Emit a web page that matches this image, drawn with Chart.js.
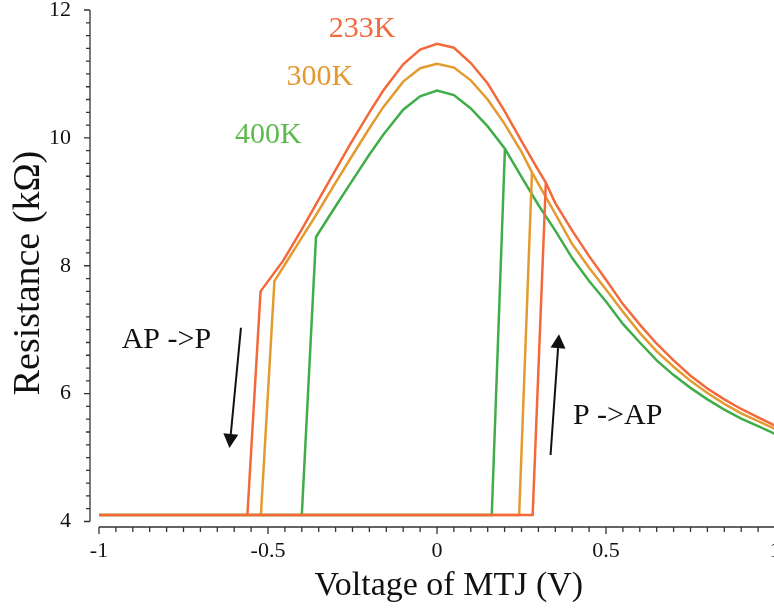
<!DOCTYPE html>
<html>
<head>
<meta charset="utf-8">
<script src="https://cdn.jsdelivr.net/npm/chart.js@4.4.1/dist/chart.umd.min.js"></script>
<style>
  html, body { margin: 0; padding: 0; background: #fff; overflow: hidden; }
  #wrap { width: 784px; height: 608px; }
</style>
</head>
<body>
<div id="wrap"><canvas id="mtj" width="784" height="608"></canvas></div>
<script>
// Data
const lowR = 4.1;

// 233K
const apV233 = [-0.561, -0.522, -0.455, -0.40, -0.356, -0.30, -0.257, -0.20, -0.159, -0.10, -0.05, 0, 0.05, 0.10, 0.15, 0.20, 0.25, 0.30, 0.322, 0.35, 0.40, 0.45, 0.50, 0.55, 0.60, 0.65, 0.70, 0.75, 0.80, 0.85, 0.90, 0.95, 1.0];
const apR233 = [lowR, 7.60, 8.08, 8.57, 8.98, 9.50, 9.90, 10.40, 10.74, 11.15, 11.38, 11.47, 11.41, 11.17, 10.85, 10.42, 9.95, 9.49, 9.30, 8.98, 8.55, 8.15, 7.78, 7.40, 7.08, 6.78, 6.52, 6.28, 6.08, 5.91, 5.76, 5.63, 5.50];
const pV233 = [-1, 0.283, 0.322];
const pR233 = [lowR, lowR, 9.30];

// 300K
const apV300 = [-0.521, -0.481, -0.45, -0.40, -0.356, -0.30, -0.257, -0.20, -0.159, -0.10, -0.05, 0, 0.05, 0.10, 0.15, 0.20, 0.25, 0.281, 0.30, 0.35, 0.40, 0.45, 0.50, 0.55, 0.60, 0.65, 0.70, 0.75, 0.80, 0.85, 0.90, 0.95, 1.0];
const apR300 = [lowR, 7.76, 8.02, 8.44, 8.81, 9.30, 9.67, 10.15, 10.48, 10.88, 11.09, 11.16, 11.10, 10.90, 10.60, 10.22, 9.78, 9.46, 9.28, 8.81, 8.34, 7.97, 7.63, 7.28, 6.95, 6.66, 6.42, 6.20, 6.01, 5.84, 5.69, 5.57, 5.45];
const pV300 = [-1, 0.243, 0.281];
const pR300 = [lowR, lowR, 9.46];

// 400K
const apV400 = [-0.400, -0.358, -0.30, -0.257, -0.20, -0.159, -0.10, -0.05, 0, 0.05, 0.10, 0.15, 0.201, 0.25, 0.30, 0.35, 0.40, 0.45, 0.50, 0.55, 0.60, 0.65, 0.70, 0.75, 0.80, 0.85, 0.90, 0.95, 1.0];
const apR400 = [lowR, 8.45, 8.93, 9.28, 9.74, 10.05, 10.44, 10.65, 10.74, 10.67, 10.46, 10.18, 9.83, 9.39, 8.95, 8.55, 8.12, 7.76, 7.44, 7.09, 6.80, 6.52, 6.29, 6.09, 5.91, 5.75, 5.61, 5.49, 5.37];
const pV400 = [-1, 0.162, 0.201];
const pR400 = [lowR, lowR, 9.83];

const xTicks = [-1, -0.5, 0, 0.5, 1];
const yTicks = [4, 6, 8, 10, 12];

const C233 = "#F4693B";
const C300 = "#E39B2F";
const C400 = "#3FAE49";
const SERIF = "'Liberation Serif', 'Times New Roman', serif";

function pts(vs, rs) {
  return vs.map((v, i) => ({ x: v, y: rs[i] }));
}

function ds(vs, rs, color) {
  return {
    data: pts(vs, rs),
    borderColor: color,
    borderWidth: 2.5,
    pointRadius: 0,
    tension: 0,
    fill: false,
  };
}

// axis lines + major/minor ticks, offset from plot like the original
const axesPlugin = {
  id: "axes",
  afterDraw(chart) {
    const { ctx, scales } = chart;
    const xs = scales.x, ys = scales.y;
    const axX = xs.getPixelForValue(-1) - 9;
    const axY = ys.getPixelForValue(4) + 5.5;
    ctx.save();
    ctx.strokeStyle = "#333";
    ctx.lineWidth = 1.3;
    // y axis
    ctx.beginPath();
    ctx.moveTo(axX, ys.getPixelForValue(12));
    ctx.lineTo(axX, ys.getPixelForValue(4));
    for (let k = 0; k <= 40; k++) {
      const v = 4 + k * 0.2;
      const p = ys.getPixelForValue(v);
      const len = k % 10 === 0 ? 6 : 4;
      ctx.moveTo(axX - len, p);
      ctx.lineTo(axX, p);
    }
    // x axis
    ctx.moveTo(xs.getPixelForValue(-1), axY);
    ctx.lineTo(xs.getPixelForValue(1), axY);
    for (let k = 0; k <= 40; k++) {
      const v = -1 + k * 0.05;
      const p = xs.getPixelForValue(v);
      const len = k % 10 === 0 ? 7 : 5;
      ctx.moveTo(p, axY);
      ctx.lineTo(p, axY + len);
    }
    ctx.stroke();
    ctx.restore();
  },
};

function arrow(ctx, x0, y0, x1, y1) {
  const ang = Math.atan2(y1 - y0, x1 - x0);
  const hl = 14, hw = 7.5;
  const bx = x1 - hl * Math.cos(ang), by = y1 - hl * Math.sin(ang);
  ctx.beginPath();
  ctx.moveTo(x0, y0);
  ctx.lineTo(bx, by);
  ctx.stroke();
  ctx.beginPath();
  ctx.moveTo(x1, y1);
  ctx.lineTo(bx + hw * Math.sin(ang), by - hw * Math.cos(ang));
  ctx.lineTo(bx - hw * Math.sin(ang), by + hw * Math.cos(ang));
  ctx.closePath();
  ctx.fill();
}

// titles, temperature labels, switching arrows
const notesPlugin = {
  id: "notes",
  afterDraw(chart) {
    const { ctx, scales } = chart;
    const px = (v) => scales.x.getPixelForValue(v);
    const py = (r) => scales.y.getPixelForValue(r);
    ctx.save();
    ctx.textBaseline = "alphabetic";
    ctx.textAlign = "left";

    ctx.font = "30px " + SERIF;
    ctx.fillStyle = "#F26A40";
    ctx.fillText("233K", px(-0.320), py(11.58));
    ctx.fillStyle = "#E3992F";
    ctx.fillText("300K", px(-0.445), py(10.83));
    ctx.fillStyle = "#5DBB4E";
    ctx.fillText("400K", px(-0.598), py(9.92));

    ctx.fillStyle = "#111";
    ctx.fillText("AP ->P", px(-0.933), py(6.71));
    ctx.fillText("P ->AP", px(0.402), py(5.52));

    ctx.strokeStyle = "#111";
    ctx.lineWidth = 2;
    arrow(ctx, px(-0.58), py(7.03), px(-0.614), py(5.15));
    arrow(ctx, px(0.336), py(5.04), px(0.361), py(6.93));

    // axis titles
    ctx.font = "34px " + SERIF;
    ctx.textAlign = "center";
    ctx.fillText("Voltage of MTJ (V)", px(0.035), 595);
    ctx.font = "38px " + SERIF;
    ctx.translate(38.5, 273);
    ctx.rotate(-Math.PI / 2);
    ctx.fillText("Resistance (k\u03A9)", 0, 0);
    ctx.restore();
  },
};

new Chart(document.getElementById("mtj"), {
  type: "line",
  data: {
    datasets: [
      ds(pV233, pR233, C233),
      ds(apV233, apR233, C233),
      ds(pV300, pR300, C300),
      ds(apV300, apR300, C300),
      ds(pV400, pR400, C400),
      ds(apV400, apR400, C400),
    ],
  },
  options: {
    responsive: false,
    animation: false,
    events: [],
    layout: { padding: { top: 10, right: 9, left: 0, bottom: 0 } },
    plugins: { legend: { display: false }, tooltip: { enabled: false } },
    scales: {
      x: {
        type: "linear",
        min: -1,
        max: 1,
        afterBuildTicks: (s) => { s.ticks = xTicks.map((v) => ({ value: v })); },
        afterFit: (s) => {
          s.height = 86.5;
          s.paddingLeft = 0;
          s.paddingRight = 0;
        },
        grid: { display: false, drawTicks: false },
        border: { display: false },
        ticks: {
          padding: 17,
          color: "#111",
          font: { family: SERIF, size: 22 },
          callback: (v) => String(v),
        },
      },
      y: {
        type: "linear",
        min: 4,
        max: 12,
        afterBuildTicks: (s) => { s.ticks = yTicks.map((v) => ({ value: v })); },
        afterFit: (s) => {
          s.width = 99;
          s.paddingTop = 0;
          s.paddingBottom = 0;
        },
        grid: { display: false, drawTicks: false },
        border: { display: false },
        ticks: {
          padding: 28,
          color: "#111",
          font: { family: SERIF, size: 22 },
          callback: (v) => String(v),
        },
      },
    },
  },
  plugins: [axesPlugin, notesPlugin],
});
</script>
</body>
</html>
